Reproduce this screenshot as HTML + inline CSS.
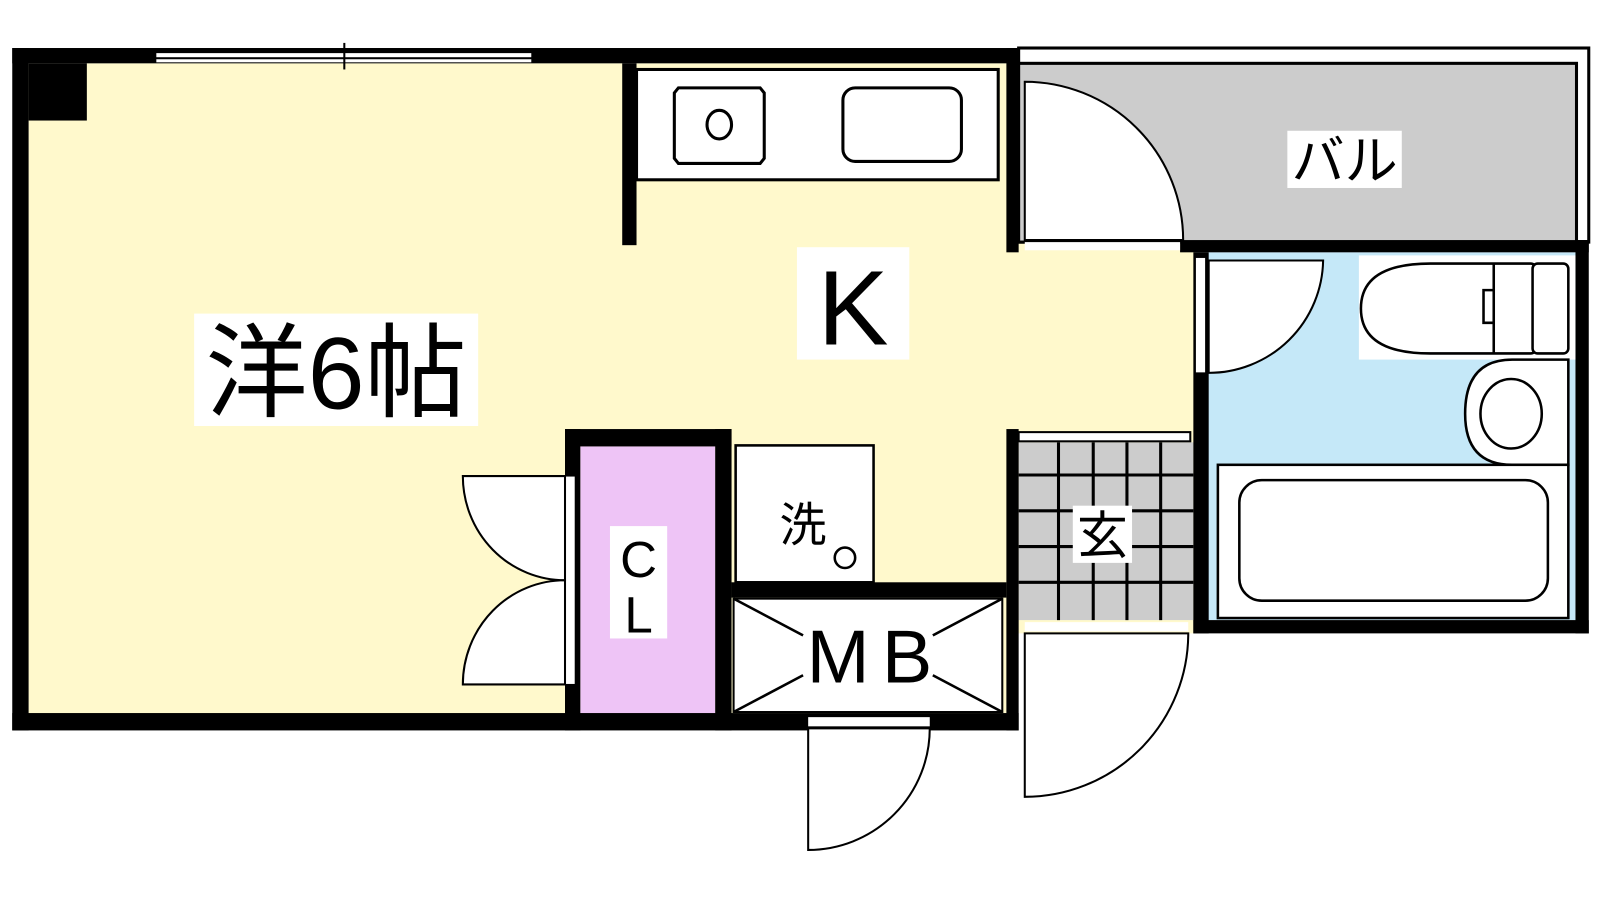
<!DOCTYPE html>
<html><head><meta charset="utf-8"><style>
html,body{margin:0;padding:0;background:#fff;}
svg{display:block;}
text{font-family:"Liberation Sans","Noto Sans CJK JP",sans-serif;}
</style></head><body>
<svg width="1600" height="900" viewBox="0 0 1566 881" preserveAspectRatio="none" xmlns="http://www.w3.org/2000/svg">
<rect x="28" y="62" width="1142" height="558" fill="#fff9cc"/>
<rect x="28" y="600" width="957" height="100" fill="#fff9cc"/>
<rect x="997" y="47" width="558" height="190" fill="#fff" stroke="#000" stroke-width="3"/>
<rect x="997" y="62" width="546" height="175" fill="#cccccc" stroke="#000" stroke-width="3"/>
<rect x="1170" y="247" width="372" height="360" fill="#c5e8f8"/>
<rect x="997" y="433" width="171" height="174" fill="#cccccc"/>
<g stroke="#000" stroke-width="3">
<line x1="1036" y1="433" x2="1036" y2="607"/><line x1="1070" y1="433" x2="1070" y2="607"/>
<line x1="1103" y1="433" x2="1103" y2="607"/><line x1="1136" y1="433" x2="1136" y2="607"/>
<line x1="997" y1="465" x2="1168" y2="465"/><line x1="997" y1="500" x2="1168" y2="500"/>
<line x1="997" y1="535" x2="1168" y2="535"/><line x1="997" y1="570" x2="1168" y2="570"/>
</g>
<rect x="568" y="437" width="132" height="263" fill="#eec4f6"/>
<g fill="#000">
<rect x="12" y="47" width="985" height="15"/>
<rect x="12" y="47" width="16" height="668"/>
<rect x="28" y="62" width="57" height="56"/>
<rect x="12" y="698" width="985" height="17"/>
<rect x="609" y="62" width="14" height="178"/>
<rect x="985" y="47" width="12" height="200"/>
<rect x="1155" y="235" width="400" height="12"/>
<rect x="1542" y="235" width="13" height="385"/>
<rect x="1168" y="247" width="15" height="373"/>
<rect x="1168" y="607" width="387" height="13"/>
<rect x="985" y="420" width="12" height="295"/>
<rect x="553" y="420" width="163" height="17"/>
<rect x="553" y="420" width="15" height="295"/>
<rect x="700" y="420" width="16" height="295"/>
<rect x="716" y="570" width="269" height="15"/>
</g>
<rect x="153" y="52" width="367" height="4" fill="#fff"/>
<rect x="153" y="58" width="367" height="3" fill="#fff"/>
<line x1="337" y1="42" x2="337" y2="68" stroke="#000" stroke-width="2"/>
<rect x="623" y="68" width="354" height="108" fill="#fff" stroke="#000" stroke-width="3"/>
<path d="M664 86 H744 L748 91 V155 L744 160 H664 L660 155 V91 Z" fill="#fff" stroke="#000" stroke-width="3"/>
<ellipse cx="704" cy="122" rx="12" ry="14" fill="none" stroke="#000" stroke-width="3"/>
<rect x="825" y="86" width="116" height="72" rx="12" fill="#fff" stroke="#000" stroke-width="3"/>
<path d="M1003 235 V80 A155 155 0 0 1 1158 235 Z" fill="#fff" stroke="#000" stroke-width="2"/>
<rect x="1003" y="237" width="152" height="8" fill="#fff"/>
<rect x="1170" y="252" width="10" height="113" fill="#fff" stroke="#000" stroke-width="1"/>
<path d="M1183 255 H1295 A112 112 0 0 1 1183 365 Z" fill="#fff" stroke="#000" stroke-width="2"/>
<rect x="1330" y="250" width="212" height="102" fill="#fff"/>
<path d="M1400 258 H1498 Q1502 258 1502 262 V342 Q1502 346 1498 346 H1400 Q1332 346 1332 302 Q1332 258 1400 258 Z" fill="#fff" stroke="#000" stroke-width="2.5"/>
<path d="M1462 258 V346 M1462 284 H1452 V316 H1462" fill="none" stroke="#000" stroke-width="2.5"/>
<rect x="1500" y="258" width="35" height="88" rx="5" fill="#fff" stroke="#000" stroke-width="2.5"/>
<path d="M1535 352 H1480 Q1434 352 1434 405 Q1434 455 1480 455 H1535 Z" fill="#fff" stroke="#000" stroke-width="2.5"/>
<ellipse cx="1479" cy="405" rx="30" ry="34" fill="#fff" stroke="#000" stroke-width="2.5"/>
<rect x="1192" y="455" width="343" height="150" fill="#fff" stroke="#000" stroke-width="2.5"/>
<rect x="1213" y="470" width="302" height="118" rx="22" fill="#fff" stroke="#000" stroke-width="2.5"/>
<rect x="997" y="423" width="168" height="9" fill="#fff" stroke="#000" stroke-width="2"/>
<rect x="1003" y="609" width="160" height="9" fill="#fff"/>
<path d="M1003 620 H1163 A160 160 0 0 1 1003 780 Z" fill="#fff" stroke="#000" stroke-width="2"/>
<rect x="553" y="466" width="10" height="204" fill="#fff" stroke="#000" stroke-width="1"/>
<path d="M553 466 H453 A100 102 0 0 0 553 568 Z" fill="#fff" stroke="#000" stroke-width="2"/>
<path d="M553 670 H453 A100 102 0 0 1 553 568 Z" fill="#fff" stroke="#000" stroke-width="2"/>
<rect x="720" y="436" width="135" height="134" fill="#fff" stroke="#000" stroke-width="2.5"/>
<circle cx="827" cy="546" r="10" fill="none" stroke="#000" stroke-width="2.5"/>
<rect x="718" y="586" width="263" height="111" fill="#fff" stroke="#000" stroke-width="2"/>
<g stroke="#000" stroke-width="2.5">
<line x1="718" y1="586" x2="786" y2="622"/><line x1="981" y1="586" x2="913" y2="622"/>
<line x1="718" y1="697" x2="786" y2="661"/><line x1="981" y1="697" x2="913" y2="661"/>
</g>
<rect x="791" y="702" width="119" height="9" fill="#fff"/>
<path d="M791 713 H910 A119 119 0 0 1 791 832 Z" fill="#fff" stroke="#000" stroke-width="2"/>
<rect x="190" y="307" width="278" height="110" fill="#fff"/>
<text x="329" y="400" font-size="100" text-anchor="middle">洋6帖</text>
<rect x="780" y="242" width="110" height="110" fill="#fff"/>
<text x="835" y="337" font-size="104" text-anchor="middle">K</text>
<rect x="1260" y="128" width="112" height="56" fill="#fff"/>
<text x="1316" y="175" font-size="52" text-anchor="middle">バル</text>
<rect x="1050" y="495" width="58" height="56" fill="#fff"/>
<text x="1079" y="542" font-size="50" text-anchor="middle">玄</text>
<rect x="597" y="515" width="56" height="110" fill="#fff"/>
<text x="625" y="565" font-size="50" text-anchor="middle">C</text>
<text x="625" y="619" font-size="50" text-anchor="middle">L</text>
<text x="786" y="530" font-size="46" text-anchor="middle">洗</text>
<text x="857" y="668" font-size="74" text-anchor="middle" letter-spacing="12">MB</text>
</svg>
</body></html>
